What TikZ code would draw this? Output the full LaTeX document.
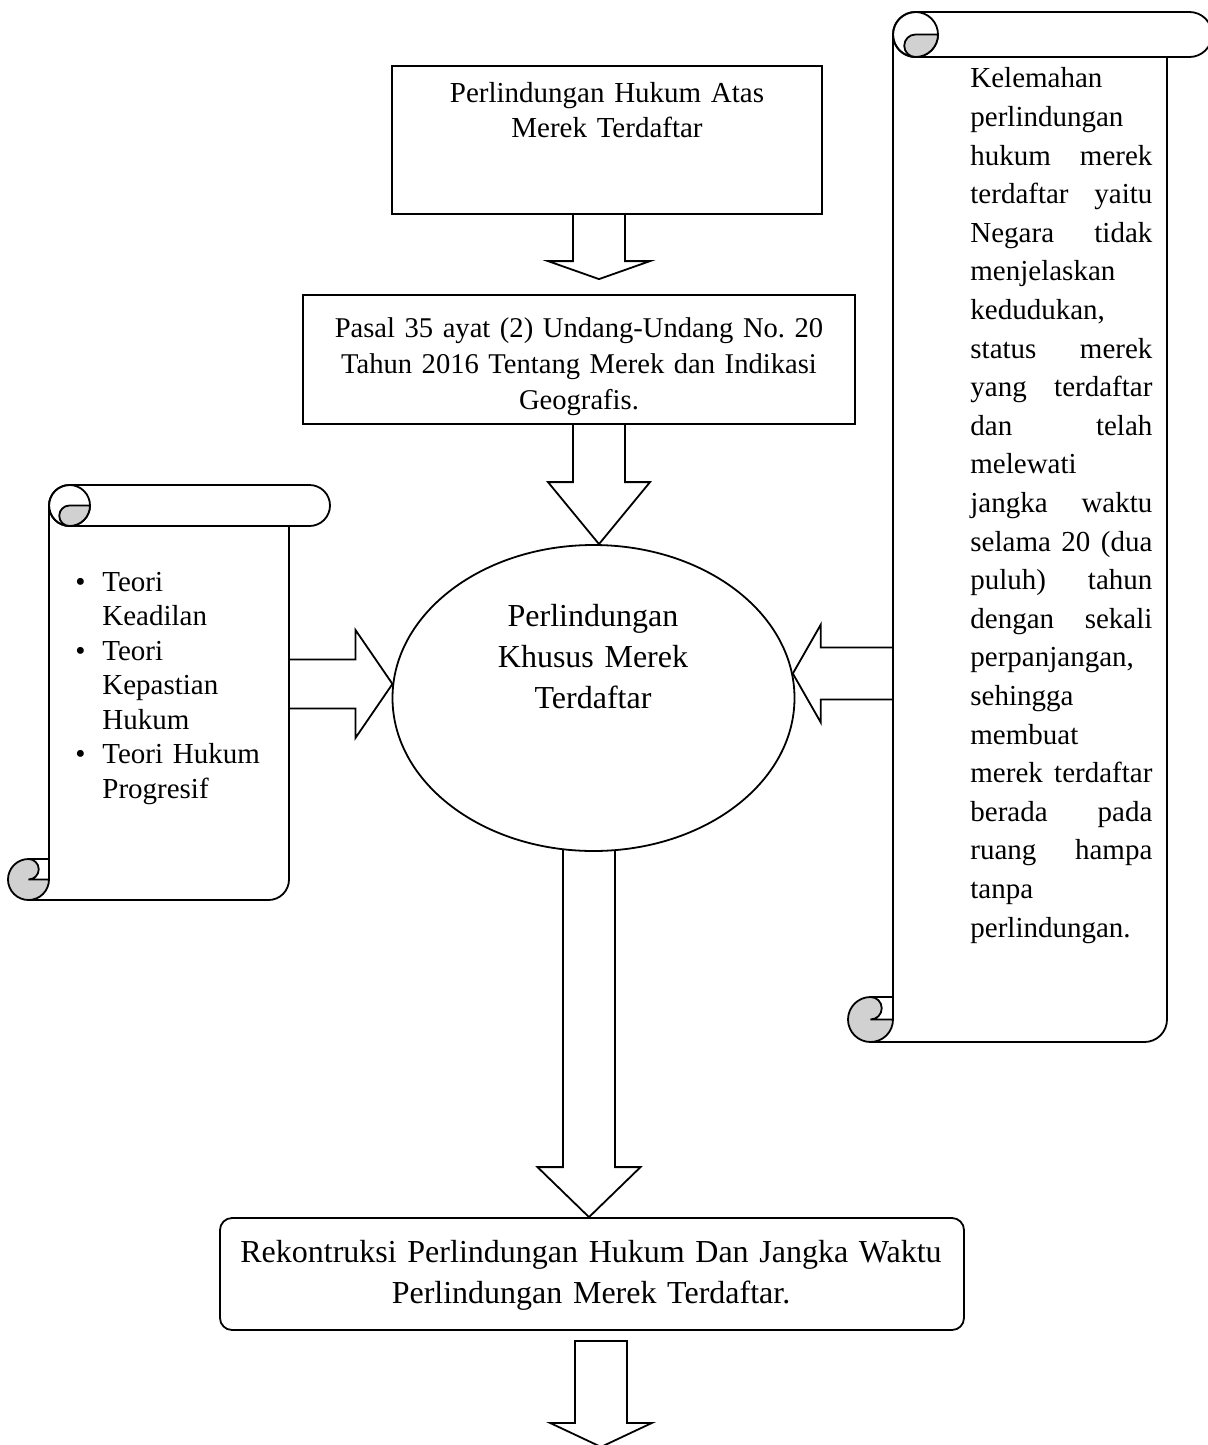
\documentclass[tikz,border=0pt]{standalone}
\usepackage{fontspec}
\setmainfont{Liberation Serif}
\usetikzlibrary{calc,shapes.geometric}
\pgfdeclarelayer{background}
\pgfsetlayers{background,main}
\frenchspacing
\tikzset{
  sline/.style={draw=black, line width=0.9pt},
  boxshape/.style={draw=black, line width=0.9pt, fill=white, inner sep=0pt},
  curl/.style={draw=black, line width=0.9pt, fill=black!18},
  blockarrow/.style={draw=black, fill=white, line width=0.9pt, line join=miter},
  txt/.style={inner sep=0pt, align=center},
}
\newcommand\jline[1]{\leavevmode\hbox to 91pt{#1}}
% vertical scroll: L, T, R, B, r (pixel units)
\newcommand\vscroll[5]{%
  \pgfmathsetmacro\sL{#1}\pgfmathsetmacro\sT{#2}%
  \pgfmathsetmacro\sR{#3}\pgfmathsetmacro\sB{#4}%
  \pgfmathsetmacro\sr{#5}%
  \pgfmathsetmacro\rpt{\sr*0.5}\pgfmathsetmacro\hpt{\sr*0.25}%
  \fill[white] (\sL,\sT+\sr) rectangle (\sR,\sB);
  \draw[sline] (\sL,\sT+\sr) -- (\sL,\sB-\sr);
  \draw[sline] (\sR,\sT+2*\sr) -- (\sR,\sB-\sr)
     arc[start angle=0,end angle=-90,radius=\rpt pt] -- (\sL-\sr,\sB);
  \draw[sline, fill=white] (\sL+\sr,\sT) -- (\sR+\sr,\sT)
     arc[start angle=90,end angle=-90,radius=\rpt pt] -- (\sL+\sr,\sT+2*\sr)
     arc[start angle=-90,end angle=-270,radius=\rpt pt] -- cycle;
  \draw[sline] (\sL+\sr,\sT+\sr) circle[radius=\rpt pt];
  \draw[curl] (\sL+\sr,\sT+\sr) arc[start angle=90,end angle=270,radius=\hpt pt]
     arc[start angle=-90,end angle=0,radius=\rpt pt] -- cycle;
  \draw[curl] (\sL-\sr,\sB-2*\sr) arc[start angle=90,end angle=-90,radius=\hpt pt]
     -- (\sL,\sB-\sr) arc[start angle=0,end angle=-270,radius=\rpt pt] -- cycle;
  \draw[sline] (\sL-\sr,\sB-2*\sr) -- (\sL,\sB-2*\sr);
}
% downward block arrow: #1 start, #2 tip, #3 shaft half, #4 head half, #5 head length
\newcommand\arrowdown[5]{%
  \draw[blockarrow] ($(#1)+(-#3,0)$) -- ($(#2)+(-#3,-#5)$) -- ($(#2)+(-#4,-#5)$) -- (#2)
    -- ($(#2)+(#4,-#5)$) -- ($(#2)+(#3,-#5)$) -- ($(#1)+(#3,0)$);}
\newcommand\arrowdownclosed[5]{%
  \draw[blockarrow] ($(#1)+(-#3,0)$) -- ($(#2)+(-#3,-#5)$) -- ($(#2)+(-#4,-#5)$) -- (#2)
    -- ($(#2)+(#4,-#5)$) -- ($(#2)+(#3,-#5)$) -- ($(#1)+(#3,0)$) -- cycle;}
% rightward block arrow
\newcommand\arrowright[5]{%
  \draw[blockarrow] ($(#1)+(0,-#3)$) -- ($(#2)+(-#5,-#3)$) -- ($(#2)+(-#5,-#4)$) -- (#2)
    -- ($(#2)+(-#5,#4)$) -- ($(#2)+(-#5,#3)$) -- ($(#1)+(0,#3)$);}
% leftward block arrow
\newcommand\arrowleft[5]{%
  \draw[blockarrow] ($(#1)+(0,-#3)$) -- ($(#2)+(#5,-#3)$) -- ($(#2)+(#5,-#4)$) -- (#2)
    -- ($(#2)+(#5,#4)$) -- ($(#2)+(#5,#3)$) -- ($(#1)+(0,#3)$);}

\begin{document}
\begin{tikzpicture}[x=0.5pt,y=-0.5pt]
\useasboundingbox (0,0) rectangle (1208,1445);

% ---- nodes ----
\node[boxshape, minimum width=215pt, minimum height=74pt] (box1) at (607,140) {};
\node[txt, text width=205pt, anchor=base, font=\fontsize{14.5}{17.5}\selectfont] (box1t) at (607,103)
  {Perlindungan Hukum Atas\\Merek Terdaftar};

\node[boxshape, minimum width=276pt, minimum height=64.5pt] (box2) at (579,359.5) {};
\node[txt, text width=270pt, anchor=base, font=\fontsize{14.3}{18}\selectfont] (box2t) at (579,337)
  {Pasal 35 ayat (2) Undang-Undang No. 20\\Tahun 2016 Tentang Merek dan Indikasi\\Geografis.};

\node[ellipse, boxshape, minimum width=201pt, minimum height=153pt] (ell) at (593.5,698) {};
\node[txt, text width=150pt, anchor=base, font=\fontsize{16}{20.5}\selectfont] (ellt) at (593,626)
  {Perlindungan\\Khusus Merek\\Terdaftar};

\node[boxshape, rounded corners=6pt, minimum width=372pt, minimum height=56pt] (box4) at (592,1274) {};
\node[txt, text width=365pt, anchor=base, font=\fontsize{16}{20.5}\selectfont] (box4t) at (591,1262)
  {Rekontruksi Perlindungan Hukum Dan Jangka Waktu\\Perlindungan Merek Terdaftar.};

% scroll reference coordinates
\coordinate (lsR) at (289,0);
\coordinate (rsL) at (893,0);

% ---- arrows (behind) ----
\begin{pgfonlayer}{background}
  \coordinate (a1s) at (599,214);
  \coordinate (a1t) at ($(a1s |- box2.north)+(0,-15)$);
  \arrowdown{a1s}{a1t}{26}{51}{18}
  \coordinate (a2s) at (a1s |- box2.south);
  \coordinate (a2t) at (a1s |- ell.north);
  \arrowdown{a2s}{a2t}{26}{51}{62}
  \coordinate (a3s) at ($(ell.south)+(-4.5,-30)$);
  \coordinate (a3t) at (a3s |- box4.north);
  \arrowdown{a3s}{a3t}{26}{51.5}{50}
  \coordinate (a4s) at ($(box4.south)+(9,10)$);
  \coordinate (a4t) at ($(a4s)+(0,106)$);
  \arrowdownclosed{a4s}{a4t}{26}{51}{24}
  \coordinate (lat) at (ell.176);
  \coordinate (las) at (lsR |- lat);
  \arrowright{las}{lat}{24.5}{54}{37}
  \coordinate (rat) at (ell.7);
  \coordinate (ras) at (rsL |- rat);
  \arrowleft{ras}{rat}{26}{49}{28}
\end{pgfonlayer}

% ---- scrolls ----
\vscroll{49}{485}{289}{900}{20.5}
\node[inner sep=0pt, anchor=base west, text width=100pt, font=\fontsize{14.5}{17.25}\selectfont] (ltext) at (75,591)
  {\makebox[13.5pt][l]{\textbullet}Teori\\
   \hspace*{13.5pt}Keadilan\\
   \makebox[13.5pt][l]{\textbullet}Teori\\
   \hspace*{13.5pt}Kepastian\\
   \hspace*{13.5pt}Hukum\\
   \makebox[13.5pt][l]{\textbullet}Teori Hukum\\
   \hspace*{13.5pt}Progresif};

\vscroll{893}{12}{1167}{1042}{22.5}
\node[inner sep=0pt, anchor=base west, text width=91pt, font=\fontsize{14.5}{19.3}\selectfont] (rtext) at (970,88)
  {\jline{Kelemahan\hfil}\\
   \jline{perlindungan\hfil}\\
   \jline{hukum\hfill merek}\\
   \jline{terdaftar\hfill yaitu}\\
   \jline{Negara\hfill tidak}\\
   \jline{menjelaskan\hfil}\\
   \jline{kedudukan,\hfil}\\
   \jline{status\hfill merek}\\
   \jline{yang\hfill terdaftar}\\
   \jline{dan\hfill telah}\\
   \jline{melewati\hfil}\\
   \jline{jangka\hfill waktu}\\
   \jline{selama\hfill 20\hfill (dua}\\
   \jline{puluh)\hfill tahun}\\
   \jline{dengan\hfill sekali}\\
   \jline{perpanjangan,\hfil}\\
   \jline{sehingga\hfil}\\
   \jline{membuat\hfil}\\
   \jline{merek\hfill terdaftar}\\
   \jline{berada\hfill pada}\\
   \jline{ruang\hfill hampa}\\
   \jline{tanpa\hfil}\\
   \jline{perlindungan.\hfil}};
\end{tikzpicture}
\end{document}
